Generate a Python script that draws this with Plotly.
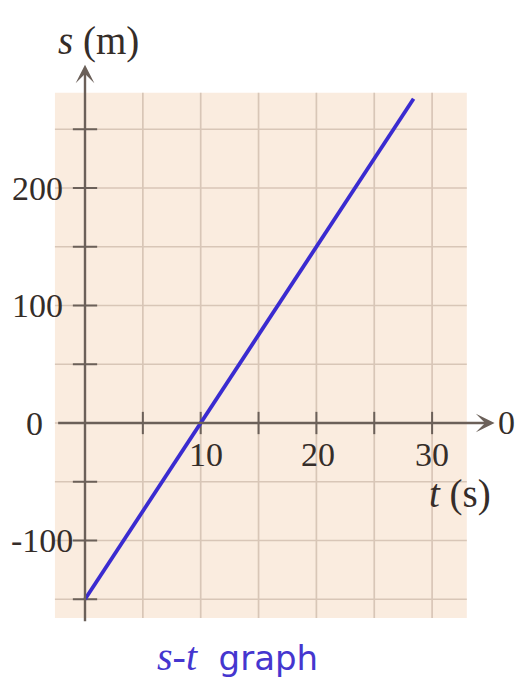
import plotly.graph_objects as go

# Position-time data for uniform motion (v = 15 m/s, s0 = -150 m)
t_values = [0, 28.4]
s_values = [-150, 276]

# Tick labels along the axes
x_tick_values = [10, 20, 30]
x_tick_labels = ["10", "20", "30"]
y_tick_values = [200, 100, 0, -100]
y_tick_labels = ["200", "100", "0", "-100"]

# Graph-paper grid
x_grid = [5, 10, 15, 20, 25, 30]
y_grid = [-150, -100, -50, 0, 50, 100, 150, 200, 250]
x_ticks = [5, 10, 15, 20, 25, 30]
y_ticks = [-150, -100, -50, 50, 100, 150, 200, 250]

# ---- styling ----
W, H = 517, 682
PX_T, PX_S = 11.57, 1.175          # pixels per unit
ORIGIN_PX = (85, 423)              # pixel position of (0, 0)
X_RANGE = [-ORIGIN_PX[0] / PX_T, (W - ORIGIN_PX[0]) / PX_T]
Y_RANGE = [(ORIGIN_PX[1] - H) / PX_S, ORIGIN_PX[1] / PX_S]

PAPER_T = [-2.6, 33.0]
PAPER_S = [-166, 281]
PAPER_COLOR = "#faecdf"
GRID_COLOR = "#d8c6b7"
AXIS_COLOR = "#6b6059"
TEXT_COLOR = "#352d29"
LINE_COLOR = "#3a2bd0"
TITLE_COLOR = "#4536cf"
SERIF = "Liberation Serif"
TICK_SIZE = 34
TITLE_SIZE = 39

fig = go.Figure()

# grid lines
gx, gy = [], []
for t in x_grid:
    gx += [t, t, None]
    gy += [PAPER_S[0], PAPER_S[1], None]
for s in y_grid:
    gx += [PAPER_T[0], PAPER_T[1], None]
    gy += [s, s, None]
fig.add_trace(go.Scatter(x=gx, y=gy, mode="lines",
                         line=dict(color=GRID_COLOR, width=1.7),
                         hoverinfo="skip", showlegend=False))

# axis tick marks
tx, ty = [], []
for t in x_ticks:
    tx += [t, t, None]
    ty += [-9.5, 9.5, None]
for s in y_ticks:
    tx += [-1.05, 1.05, None]
    ty += [s, s, None]
fig.add_trace(go.Scatter(x=tx, y=ty, mode="lines",
                         line=dict(color=AXIS_COLOR, width=2),
                         hoverinfo="skip", showlegend=False))

# s-t line
fig.add_trace(go.Scatter(x=t_values, y=s_values, mode="lines",
                         line=dict(color=LINE_COLOR, width=3.8),
                         hoverinfo="skip", showlegend=False))

shapes = [dict(type="rect", xref="x", yref="y", layer="below",
               x0=PAPER_T[0], x1=PAPER_T[1], y0=PAPER_S[0], y1=PAPER_S[1],
               fillcolor=PAPER_COLOR, line=dict(width=0))]

annotations = []
# axes with arrowheads
annotations.append(dict(x=0, y=305, ax=0, ay=-170, xref="x", yref="y",
                        axref="x", ayref="y", text="", showarrow=True,
                        arrowhead=3, arrowsize=1.3, arrowwidth=2.4,
                        arrowcolor=AXIS_COLOR))
annotations.append(dict(x=35.4, y=0, ax=-2.45, ay=0, xref="x", yref="y",
                        axref="x", ayref="y", text="", showarrow=True,
                        arrowhead=3, arrowsize=1.3, arrowwidth=2.4,
                        arrowcolor=AXIS_COLOR))
annotations.append(dict(x=35.4, y=0, xref="x", yref="y", text="0",
                        showarrow=False, xanchor="left", yanchor="middle",
                        xshift=1, yshift=1,
                        font=dict(family=SERIF, size=TICK_SIZE, color=TEXT_COLOR)))

# tick labels
y_label_shift = {"200": -20, "100": -20, "0": -40, "-100": -10}
for v, lab in zip(y_tick_values, y_tick_labels):
    annotations.append(dict(x=0, y=v, xref="x", yref="y", text=lab,
                            showarrow=False, xanchor="right", yanchor="middle",
                            xshift=y_label_shift[lab], yshift=0,
                            font=dict(family=SERIF, size=TICK_SIZE, color=TEXT_COLOR)))
x_label_shift = {"10": 5, "20": 2, "30": 0}
for v, lab in zip(x_tick_values, x_tick_labels):
    annotations.append(dict(x=v, y=0, xref="x", yref="y", text=lab,
                            showarrow=False, xanchor="center", yanchor="middle",
                            xshift=x_label_shift[lab], yshift=-31,
                            font=dict(family=SERIF, size=TICK_SIZE, color=TEXT_COLOR)))

# axis titles
annotations.append(dict(x=1.2, y=325, xref="x", yref="y",
                        text="<i>s</i> (m)", showarrow=False,
                        font=dict(family=SERIF, size=TITLE_SIZE, color=TEXT_COLOR)))
annotations.append(dict(x=32.4, y=-60, xref="x", yref="y",
                        text="<i>t</i> (s)", showarrow=False,
                        font=dict(family=SERIF, size=TITLE_SIZE, color=TEXT_COLOR)))

# caption
annotations.append(dict(x=237 / W, y=1 - 656 / H, xref="paper", yref="paper",
                        text="<span style='font-family:Liberation Serif;font-size:40px'><i>s-t</i></span>"
                             "\u00a0 graph",
                        showarrow=False, xanchor="center", yanchor="middle",
                        font=dict(family="DejaVu Sans", size=34, color=TITLE_COLOR)))

fig.update_layout(
    width=W, height=H,
    margin=dict(l=0, r=0, t=0, b=0, pad=0),
    paper_bgcolor="white", plot_bgcolor="white",
    xaxis=dict(range=X_RANGE, visible=False, fixedrange=True),
    yaxis=dict(range=Y_RANGE, visible=False, fixedrange=True),
    shapes=shapes, annotations=annotations,
    showlegend=False,
)

fig.write_html("out.html")
